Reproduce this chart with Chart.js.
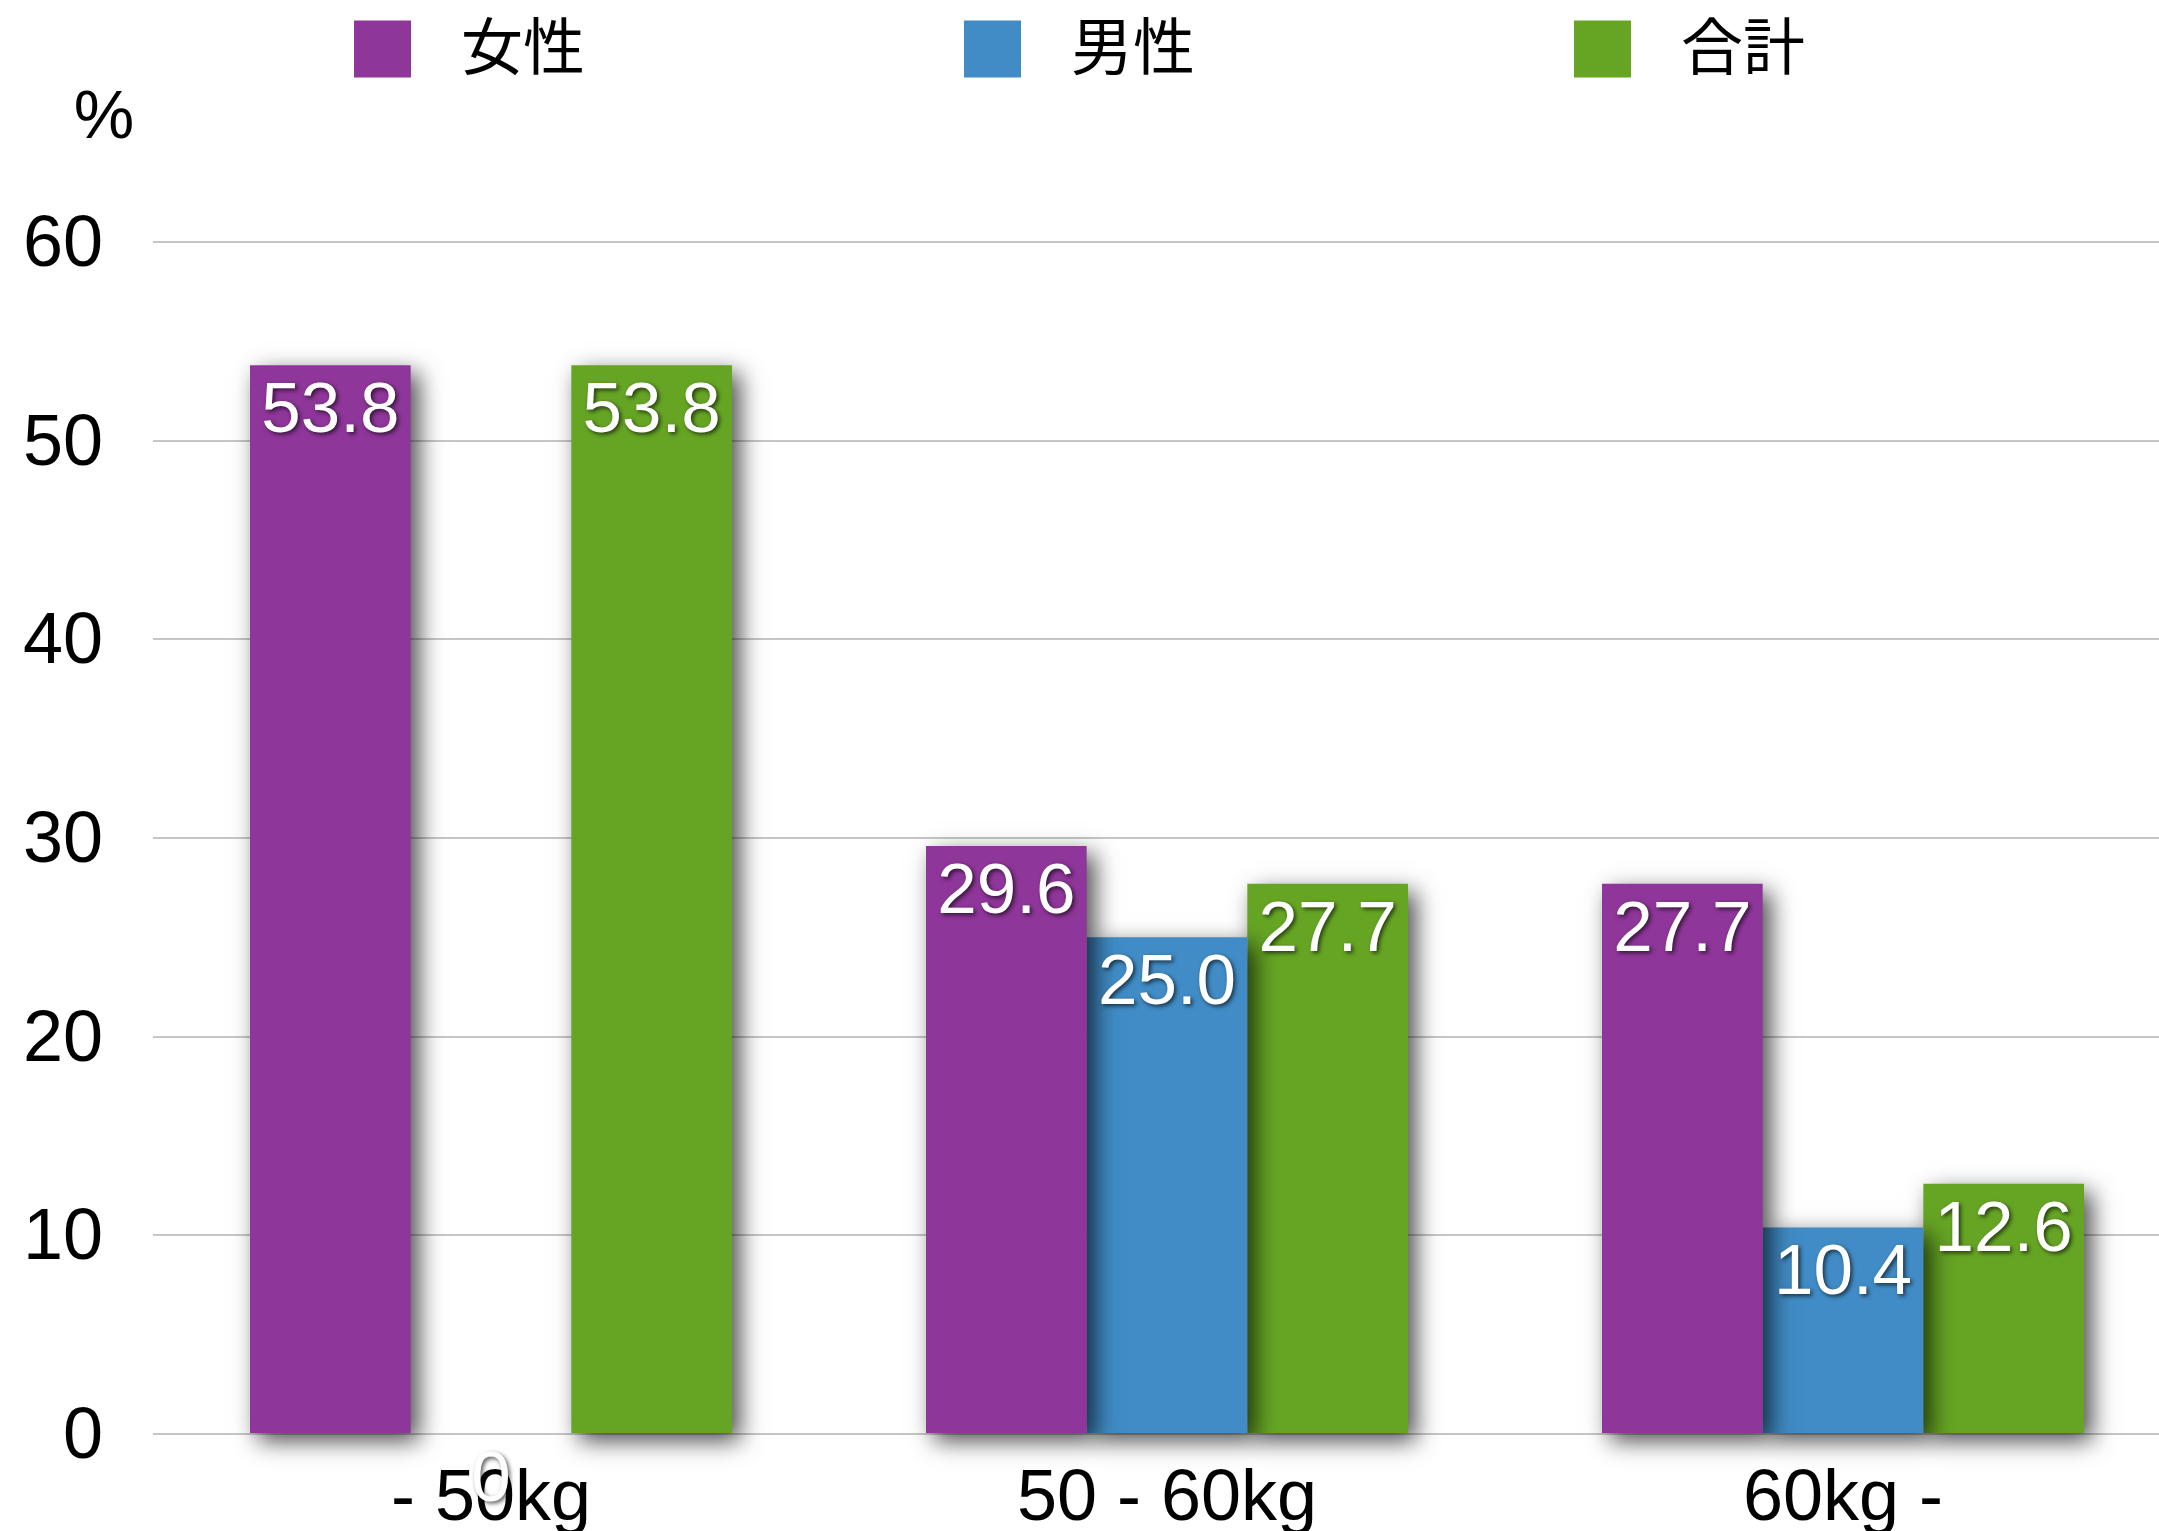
<!DOCTYPE html>
<html lang="ja">
<head>
<meta charset="utf-8">
<title>体重別の割合</title>
<script src="https://cdn.jsdelivr.net/npm/chart.js@4/dist/chart.umd.min.js"></script>
<style>
    html, body { margin: 0; padding: 0; background: #fff; overflow: hidden; }
    #wrap { width: 2181px; height: 1531px; }
</style>
</head>
<body>
<div id="wrap"><canvas id="weightChart" width="2181" height="1531"></canvas></div>
<script>
// データ
const categories = ['- 50kg', '50 - 60kg', '60kg -'];
const seriesNames = ['女性', '男性', '合計'];
const femaleValues = [53.8, 29.6, 27.7];
const maleValues = [0, 25.0, 10.4];
const totalValues = [53.8, 27.7, 12.6];
const yTickValues = [0, 10, 20, 30, 40, 50, 60];
const unitLabel = '%';

const seriesColors = ['#8e3699', '#418cc6', '#66a524'];
const latinFont = '"Liberation Sans", Arial, sans-serif';
const cjkFont = '"Noto Sans CJK JP", "Noto Sans", sans-serif';
const PAGE_WIDTH = 2159;

// 数値ラベル (0 はそのまま、それ以外は小数1桁)
function formatValue(v) {
    return v === 0 ? '0' : v.toFixed(1);
}

// 棒の影 + 棒の中の数値
const barDecorPlugin = {
    id: 'barDecor',
    beforeDatasetsDraw(chart) {
        const ctx = chart.ctx;
        ctx.save();
        ctx.shadowColor = 'rgba(0, 0, 0, 0.7)';
        ctx.shadowBlur = 22;
        ctx.shadowOffsetX = 8;
        ctx.shadowOffsetY = 8;
    },
    afterDatasetsDraw(chart) {
        const ctx = chart.ctx;
        ctx.restore();

        ctx.save();
        ctx.font = '71px ' + latinFont;
        ctx.fillStyle = '#ffffff';
        ctx.textAlign = 'center';
        ctx.textBaseline = 'alphabetic';
        ctx.shadowColor = 'rgba(0, 0, 0, 0.65)';
        ctx.shadowBlur = 4;
        ctx.shadowOffsetX = 2;
        ctx.shadowOffsetY = 2;
        chart.data.datasets.forEach(function(ds, i) {
            const meta = chart.getDatasetMeta(i);
            meta.data.forEach(function(bar, j) {
                ctx.fillText(formatValue(ds.data[j]), bar.x, bar.y + 67);
            });
        });
        ctx.restore();
    },
    afterDraw(chart) {
        const ctx = chart.ctx;
        ctx.save();

        // 単位
        ctx.font = '68px ' + latinFont;
        ctx.fillStyle = '#000';
        ctx.textAlign = 'center';
        ctx.textBaseline = 'middle';
        ctx.fillText(unitLabel, 104, 119);

        // 凡例
        const boxSize = 57;
        const boxGap = 50;
        const itemGap = 379;
        const rowY = 49;
        ctx.font = '62px ' + cjkFont;
        ctx.textAlign = 'left';
        const widths = chart.data.datasets.map(function(ds) {
            return boxSize + boxGap + ctx.measureText(ds.label).width;
        });
        const total = widths.reduce(function(a, b) { return a + b; }, 0) + itemGap * (widths.length - 1);
        let x = (PAGE_WIDTH - total) / 2;
        chart.data.datasets.forEach(function(ds, i) {
            ctx.fillStyle = ds.backgroundColor;
            ctx.fillRect(x, rowY - boxSize / 2, boxSize, boxSize);
            ctx.fillStyle = '#000';
            ctx.fillText(ds.label, x + boxSize + boxGap, rowY - 3);
            x += widths[i] + itemGap;
        });
        ctx.restore();
    }
};

document.addEventListener('DOMContentLoaded', function() {
    const ctx = document.getElementById('weightChart');

    const valueLists = [femaleValues, maleValues, totalValues];
    const datasets = seriesNames.map(function(name, i) {
        return {
            label: name,
            data: valueLists[i],
            backgroundColor: seriesColors[i],
            borderWidth: 0,
            clip: false,
            categoryPercentage: 0.713,
            barPercentage: 1.0
        };
    });

    new Chart(ctx.getContext('2d'), {
        type: 'bar',
        data: {
            labels: categories,
            datasets: datasets
        },
        options: {
            responsive: false,
            animation: false,
            devicePixelRatio: 1,
            layout: {
                padding: { top: 242, left: 0, right: 0, bottom: 0 }
            },
            scales: {
                x: {
                    grid: { display: false },
                    border: { display: false },
                    ticks: {
                        color: '#000',
                        padding: 15,
                        font: { family: latinFont, size: 72 }
                    },
                    afterFit: function(scale) { scale.height = 97; }
                },
                y: {
                    min: 0,
                    max: 60,
                    grid: {
                        color: '#c6c6c6',
                        lineWidth: 2,
                        drawTicks: false
                    },
                    border: { display: false },
                    afterBuildTicks: function(scale) {
                        scale.ticks = yTickValues.map(function(v) { return { value: v }; });
                    },
                    ticks: {
                        color: '#000',
                        padding: 50,
                        labelOffset: 4,
                        font: { family: latinFont, size: 72 }
                    },
                    afterFit: function(scale) { scale.width = 153; }
                }
            },
            plugins: {
                legend: { display: false },
                tooltip: { enabled: false }
            }
        },
        plugins: [barDecorPlugin]
    });
});
</script>
</body>
</html>
